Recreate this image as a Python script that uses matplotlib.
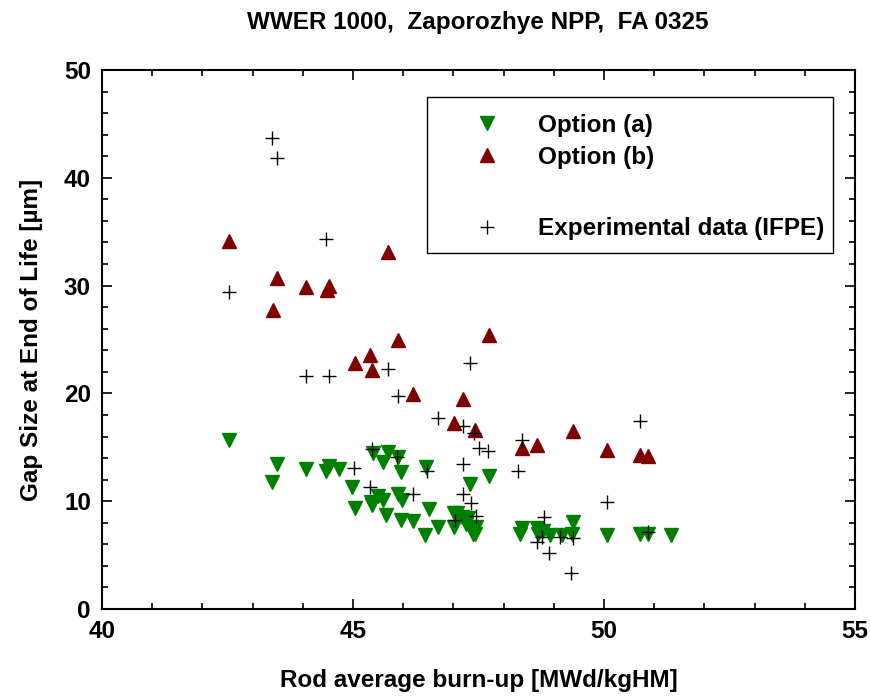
import numpy as np
import matplotlib.pyplot as plt
from matplotlib.ticker import MultipleLocator
from matplotlib.lines import Line2D
from matplotlib.patches import Rectangle

# Option (a) - green, down triangles
a_burnup = [42.52, 43.48, 43.39, 44.06, 44.53, 44.46, 44.72, 44.99, 45.03, 45.40,
            45.69, 45.59, 45.90, 45.96, 46.45, 47.70, 47.34, 45.49, 45.59, 45.37,
            45.65, 45.90, 45.97, 45.95, 46.20, 46.43, 46.52, 46.70, 47.01, 47.01,
            47.08, 47.17, 47.30, 47.40, 47.46, 47.25, 48.33, 48.36, 48.66, 48.69,
            48.92, 49.16, 49.39, 49.36, 48.79, 50.05, 50.72, 50.88, 51.33, 45.35,
            47.43, 47.40]
a_gap = [15.7, 13.45, 11.75, 13.0, 13.3, 12.8, 13.0, 11.3, 9.4, 14.45,
         14.6, 13.6, 14.1, 12.7, 13.2, 12.3, 11.6, 10.5, 10.1, 9.65,
         8.7, 10.7, 10.1, 8.3, 8.2, 6.9, 9.3, 7.6, 7.6, 8.9,
         8.9, 8.5, 8.4, 7.0, 7.6, 7.9, 7.0, 7.5, 7.5, 7.0,
         6.9, 6.9, 8.1, 7.0, 7.2, 6.9, 7.0, 7.0, 6.9, 9.95,
         7.0, 7.5]

# Option (b) - dark red, up triangles
b_burnup = [42.52, 43.48, 43.40, 44.06, 44.53, 44.48, 45.69, 45.03, 45.34, 45.38,
            45.90, 47.70, 46.20, 47.20, 47.02, 47.44, 48.36, 48.67, 49.39, 50.05,
            50.72, 50.88]
b_gap = [34.1, 30.7, 27.7, 29.9, 30.0, 29.6, 33.1, 22.8, 23.6, 22.2,
         25.0, 25.4, 19.9, 19.5, 17.3, 16.6, 14.9, 15.2, 16.5, 14.75,
         14.3, 14.2]

# Experimental data (IFPE)
exp_burnup = [43.39, 43.48, 44.46, 42.52, 44.06, 44.53, 45.69, 45.89, 45.38, 45.87,
              45.02, 45.34, 47.34, 46.70, 47.20, 47.42, 47.50, 47.68, 48.36, 48.29,
              47.20, 46.47, 46.20, 47.20, 47.36, 47.45, 47.03, 48.80, 48.76, 48.67,
              49.12, 49.39, 48.90, 50.72, 50.05, 49.34, 50.88]
exp_gap = [43.7, 41.8, 34.3, 29.4, 21.6, 21.6, 22.3, 19.8, 14.8, 14.1,
           13.05, 11.35, 22.85, 17.75, 17.0, 16.3, 14.96, 14.66, 15.7, 12.8,
           13.45, 12.8, 10.7, 10.7, 9.86, 8.6, 8.3, 8.56, 6.7, 6.24,
           6.7, 6.56, 5.2, 17.47, 9.95, 3.37, 7.17]

plt.rcParams['font.family'] = ['Liberation Sans', 'DejaVu Sans']
plt.rcParams['font.weight'] = 'bold'
FS = 17.5

fig = plt.figure(figsize=(8.71, 6.98), dpi=100)
ax = fig.add_axes([102/871, 89/698, 753/871, 539/698])

ax.plot(a_burnup, a_gap, 'v', color='#008000', ms=10, ls='none')
ax.plot(b_burnup, b_gap, '^', color='#800000', ms=10, ls='none')
ax.plot(exp_burnup, exp_gap, '+', color='black', ms=10, mew=1.0, ls='none')

ax.set_xlim(40, 55)
ax.set_ylim(0, 50)
ax.xaxis.set_major_locator(MultipleLocator(5))
ax.xaxis.set_minor_locator(MultipleLocator(1))
ax.yaxis.set_major_locator(MultipleLocator(10))
ax.yaxis.set_minor_locator(MultipleLocator(2))
ax.tick_params(which='both', direction='in', top=True, right=True, width=1.2)
ax.tick_params(which='major', length=7, labelsize=FS, pad=8)
ax.tick_params(which='minor', length=4)
for s in ax.spines.values():
    s.set_linewidth(1.5)

ax.set_xlabel('Rod average burn-up [MWd/kgHM]', fontsize=FS, fontweight='bold', labelpad=19)
ax.set_ylabel('Gap Size at End of Life [µm]', fontsize=FS, fontweight='bold', labelpad=15)
fig.text(0.549, 0.968, 'WWER 1000,  Zaporozhye NPP,  FA 0325', fontsize=FS,
         fontweight='bold', ha='center', va='center')

# legend box drawn separately so its padding can match the original
ax.add_patch(Rectangle((0.4316, 0.6605), 0.5392, 0.2894, transform=ax.transAxes,
                       facecolor='white', edgecolor='black', lw=1.0, zorder=4))

handles = [Line2D([], [], marker='v', color='#008000', ls='none', ms=10),
           Line2D([], [], marker='^', color='#800000', ls='none', ms=10),
           Line2D([], [], ls='none'),
           Line2D([], [], marker='+', color='black', ls='none', ms=10)]
labels = ['Option (a)', 'Option (b)', ' ', 'Experimental data (IFPE)']
leg = ax.legend(handles, labels, loc='upper left', bbox_to_anchor=(0.4794, 0.919),
                fontsize=FS, frameon=False, handletextpad=1.09, borderpad=0,
                labelspacing=0.38, borderaxespad=0, handlelength=2.0)
leg.get_texts()[2].set_fontsize(23)  # taller blank row, as in the original
leg.set_zorder(5)

fig.savefig('out.png', dpi=100)
